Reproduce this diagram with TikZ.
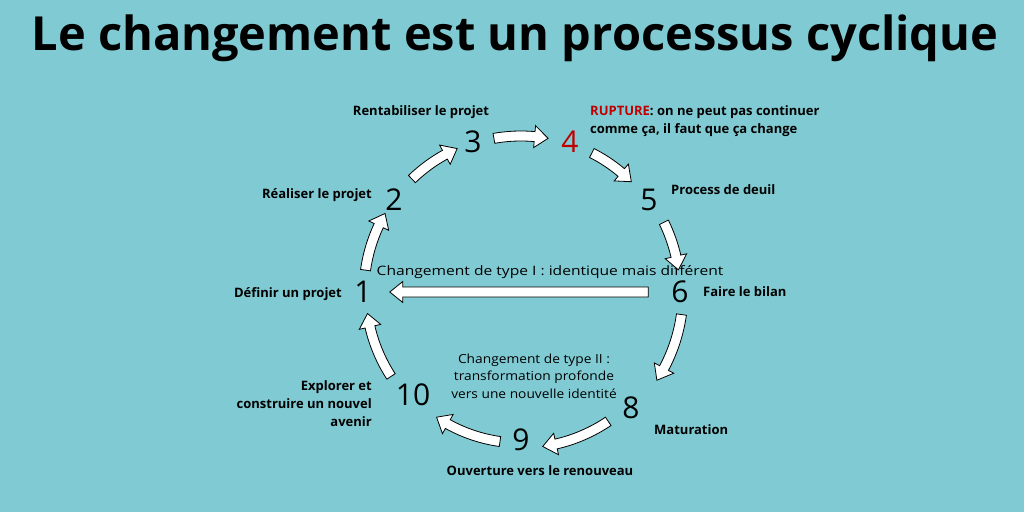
\documentclass[tikz,border=0pt]{standalone}
\usepackage{fontspec}
\setmainfont{Open Sans}
\newfontfamily\midfont[FakeStretch=1.2]{Open Sans}
\newfontfamily\midfontb[FakeStretch=1.1]{Open Sans}
\definecolor{bg}{RGB}{128,203,211}
\definecolor{rup}{RGB}{192,0,0}
\newcommand\cyarrow[3]{%
  \pgfmathsetmacro\cysgn{ifthenelse(#2>#1,1,-1)}%
  \pgfmathsetmacro\cyhb{#2-\cysgn*5}%
  \pgfmathsetmacro\cyro{#3+5}%
  \pgfmathsetmacro\cyri{#3-5}%
  \pgfmathsetmacro\cyho{#3+11}%
  \pgfmathsetmacro\cyhi{#3-11}%
  \draw[blockarrow] ([shift={(ctr)}]#1:\cyro) arc[start angle=#1,end angle=\cyhb,radius=\cyro]
    -- ([shift={(ctr)}]\cyhb:\cyho) -- ([shift={(ctr)}]#2:#3) -- ([shift={(ctr)}]\cyhb:\cyhi)
    -- ([shift={(ctr)}]\cyhb:\cyri) arc[start angle=\cyhb,end angle=#1,radius=\cyri] -- cycle;}
\begin{document}
\begin{tikzpicture}[x=1pt,y=1pt,
  num/.style={font=\fontsize{30}{30}\selectfont, inner sep=0pt},
  lab/.style={font=\bfseries\fontsize{13}{18}\selectfont, inner sep=0pt},
  mid/.style={font=\midfont\fontsize{13}{17.5}\selectfont, inner sep=0pt, align=center},
  midb/.style={font=\midfontb\fontsize{12.5}{17.5}\selectfont, inner sep=0pt, align=center},
  blockarrow/.style={fill=white, draw=black, line width=0.8pt, line join=miter}]
\fill[bg] (0,0) rectangle (1024,512);
\useasboundingbox (0,0) rectangle (1024,512);
\coordinate (ctr) at (521,220);
\node[font=\bfseries\fontsize{47}{50}\selectfont] (title) at (515,474) {Le changement est un processus cyclique};
% numbers
\node[num] (n1) at (363,220) {1};
\node[num] (n2) at (394,312) {2};
\node[num] (n3) at (473,370) {3};
\node[num, text=rup] (n4) at (570,370) {4};
\node[num] (n5) at (649,312) {5};
\node[num] (n6) at (680,220) {6};
\node[num] (n8) at (631,104) {8};
\node[num] (n9) at (521,72) {9};
\node[num] (n10) at (413,117) {10};
% labels
\node[lab] (l3) at (421,400) {Rentabiliser le projet};
\node[lab, anchor=west, align=left] (l4) at (590,391) {\textcolor{rup}{RUPTURE}: on ne peut pas continuer\\comme ça, il faut que ça change};
\node[lab, anchor=west] (l5) at (671,322) {Process de deuil};
\node[lab, anchor=west] (l6) at (703,220) {Faire le bilan};
\node[lab, anchor=west] (l8) at (654,82) {Maturation};
\node[lab] (l9) at (540,41) {Ouverture vers le renouveau};
\node[lab, anchor=east, align=right] (l10) at (372,108) {Explorer et\\construire un nouvel\\avenir};
\node[lab, anchor=east] (l1) at (342,218) {Définir un projet};
\node[lab, anchor=east] (l2) at (372,317) {Réaliser le projet};
\node[mid] (m1) at (550,240) {Changement de type I : identique mais différent};
\node[midb] (m2) at (534,136) {Changement de type II :\\transformation profonde\\vers une nouvelle identité};
% cycle arrows
\cyarrow{172}{150}{157}
\cyarrow{134}{114}{157}
\cyarrow{100}{80}{156}
\cyarrow{63}{45}{156}
\cyarrow{26}{8}{159}
\cyarrow{-8}{-33}{162}
\cyarrow{-56}{-82}{156}
\cyarrow{-98}{-124}{151}
\cyarrow{-147}{-172}{155}
% straight arrow 6 -> 1
\coordinate (sa) at ([xshift=-23pt]n6.west);
\coordinate (ta) at ([xshift=18pt]n1.east);
\draw[blockarrow] ([yshift=5pt]sa) -- ([xshift=13pt,yshift=5pt]ta) -- ([xshift=13pt,yshift=10.5pt]ta) -- (ta)
  -- ([xshift=13pt,yshift=-10.5pt]ta) -- ([xshift=13pt,yshift=-5pt]ta) -- ([yshift=-5pt]sa) -- cycle;
\end{tikzpicture}
\end{document}
